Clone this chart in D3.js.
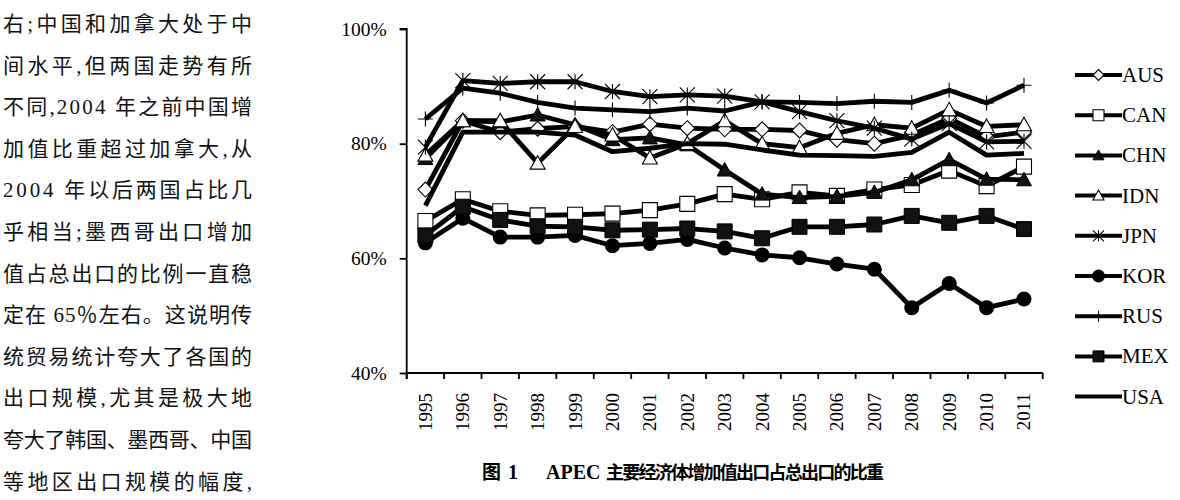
<!DOCTYPE html>
<html>
<head>
<meta charset="utf-8">
<script src="https://cdn.jsdelivr.net/npm/d3@7"></script>
<style>
    body { margin: 0; background: #fff; }
    svg { display: block; }
</style>
</head>
<body>
<div id="chart"></div>
<script>
// data (percent of gross exports)
const years = ["1995", "1996", "1997", "1998", "1999", "2000", "2001", "2002", "2003",
    "2004", "2005", "2006", "2007", "2008", "2009", "2010", "2011"];
const AUS = [72, 84, 82, 82.6, 83, 82, 83.4, 82.7, 82.5, 82.5, 82.3, 80.7, 80, 81.5, 84.4, 81.2, 82];
const CAN = [66.5, 70.3, 68.2, 67.5, 67.6, 67.8, 68.4, 69.5, 71.2, 70.3, 71.5, 70.9, 72, 72.8, 75.3, 72.6, 76];
const CHN = [77.4, 84, 83.8, 85, 83.3, 80.7, 81, 79.8, 75.4, 71.2, 70.6, 70.8, 71.5, 73.7, 77.2, 73.8, 73.7];
const IDN = [78, 84, 84, 76.6, 83, 81.5, 77.5, 80, 84, 80, 79.3, 81.8, 83.3, 82.7, 85.9, 83, 83.3];
const JPN = [79.4, 91, 90.5, 90.8, 90.8, 89.1, 88.2, 88.5, 88.3, 87.3, 85.6, 84, 82.7, 80.8, 83.5, 80.3, 80.4];
const KOR = [62.7, 67, 63.7, 63.7, 64, 62.2, 62.6, 63.3, 61.8, 60.6, 60.1, 59, 58.1, 51.4, 55.6, 51.4, 52.9];
const RUS = [84.3, 89.7, 88.8, 87.2, 86.2, 85.9, 85.6, 86.2, 85.7, 87.3, 87.2, 87, 87.4, 87.2, 89.3, 87.1, 90.2];
const MEX = [64, 69, 66.7, 65.6, 65.5, 64.9, 65, 65.2, 64.7, 63.5, 65.5, 65.5, 65.9, 67.4, 66.2, 67.4, 65.1];
const USA = [69.2, 82, 82, 82, 81.5, 78.6, 79.2, 80, 79.9, 78.9, 78, 77.9, 77.8, 78.5, 82, 78, 78.3];

const seriesNames = ["AUS", "CAN", "CHN", "IDN", "JPN", "KOR", "RUS", "MEX", "USA"];
const seriesValues = [AUS, CAN, CHN, IDN, JPN, KOR, RUS, MEX, USA];
const markerTypes = ["diamond", "square", "triangleFill", "triangle", "asterisk", "circle", "plus", "squareFill", "none"];
const yTicks = [40, 60, 80, 100];

const bodyLines = [
    "右;中国和加拿大处于中",
    "间水平,但两国走势有所",
    "不同,2004 年之前中国增",
    "加值比重超过加拿大,从",
    "2004 年以后两国占比几",
    "乎相当;墨西哥出口增加",
    "值占总出口的比例一直稳",
    "定在 65％左右。这说明传",
    "统贸易统计夸大了各国的",
    "出口规模,尤其是极大地",
    "夸大了韩国、墨西哥、中国",
    "等地区出口规模的幅度,"
];

let svg = d3.select("#chart").append("svg")
    .attr("width", 1180)
    .attr("height", 500);

let serif = "'Liberation Serif', 'DejaVu Serif', serif",
    cjk = "'Noto Sans CJK SC', sans-serif";

// left column of body text
svg.append("g")
    .selectAll("text")
    .data(bodyLines)
    .enter().append("text")
    .attr("x", 3)
    .attr("y", (d, i) => 31 + i * 41.6)
    .attr("textLength", 249)
    .attr("lengthAdjust", "spacing")
    .style("font-family", "'Liberation Serif', 'Noto Sans CJK SC', serif")
    .style("font-size", "21px")
    .style("fill", "#111")
    .text(d => d);

let plotLeft = 406.7, plotRight = 1042.7, plotTop = 29, plotBottom = 373;

let x = d3.scaleBand()
    .domain(years)
    .range([plotLeft, plotRight])
    .padding(0);

let y = d3.scaleLinear()
    .domain([40, 100])
    .range([plotBottom, plotTop]);

// y axis
let yAxis = svg.append("g")
    .attr("transform", `translate(${plotLeft},0)`)
    .call(d3.axisLeft(y).tickValues(yTicks).tickSize(7).tickFormat(d => d + "%"));
yAxis.select(".domain").attr("d", `M-7,${plotTop}H0V${plotBottom + 6}`).attr("stroke-width", 1.8);
yAxis.selectAll(".tick line").attr("stroke-width", 1.8);
yAxis.selectAll(".tick text")
    .attr("x", -20)
    .style("font-family", serif)
    .style("font-size", "19.5px")
    .style("fill", "#000");

// x axis, ticks between categories
let xAxis = svg.append("g")
    .attr("transform", `translate(0,${plotBottom})`);
xAxis.append("path")
    .attr("d", `M${plotLeft},0H${plotRight}`)
    .attr("stroke", "#000")
    .attr("stroke-width", 1.8);
xAxis.selectAll(".xtick")
    .data(years.concat(["end"]))
    .enter().append("line")
    .attr("class", "xtick")
    .attr("x1", d => d === "end" ? plotRight : x(d))
    .attr("x2", d => d === "end" ? plotRight : x(d))
    .attr("y1", 0)
    .attr("y2", 6)
    .attr("stroke", "#000")
    .attr("stroke-width", 1.8);
xAxis.selectAll(".xlabel")
    .data(years)
    .enter().append("text")
    .attr("class", "xlabel")
    .attr("transform", d => `translate(${x(d) + x.bandwidth() / 2 + 6.5},20) rotate(-90)`)
    .attr("text-anchor", "end")
    .style("font-family", serif)
    .style("font-size", "19px")
    .style("fill", "#000")
    .text(d => d);

function markerPath(type, s) {
    if (type === "diamond") return `M0,${-s}L${s},0L0,${s}L${-s},0Z`;
    if (type === "square" || type === "squareFill") return `M${-s},${-s}H${s}V${s}H${-s}Z`;
    if (type === "triangle" || type === "triangleFill") return `M0,${-s}L${s},${s * 0.8}L${-s},${s * 0.8}Z`;
    if (type === "asterisk") return `M0,${-s}V${s}M${-s},${-s}L${s},${s}M${s},${-s}L${-s},${s}`;
    if (type === "plus") return `M0,${-s}V${s}M${-s},0H${s}`;
    return "";
}

function drawMarker(g, type, s) {
    if (type === "none") return;
    if (type === "circle") {
        g.append("circle").attr("r", s).attr("fill", "#000");
        return;
    }
    let filled = type === "triangleFill" || type === "squareFill",
        open = type === "diamond" || type === "square" || type === "triangle";
    g.append("path")
        .attr("d", markerPath(type, s))
        .attr("fill", filled ? "#111" : (open ? "#fff" : "none"))
        .attr("stroke", "#000")
        .attr("stroke-width", filled ? 1 : 1.1);
}

let line = d3.line()
    .x((d, i) => x(years[i]) + x.bandwidth() / 2)
    .y(d => y(d));

let plot = svg.append("g");
seriesNames.forEach((name, k) => {
    let g = plot.append("g").attr("class", "series");
    g.append("path")
        .datum(seriesValues[k])
        .attr("d", line)
        .attr("fill", "none")
        .attr("stroke", "#000")
        .attr("stroke-width", 4.8)
        .attr("stroke-linejoin", "round");
    g.selectAll(".mk")
        .data(seriesValues[k])
        .enter().append("g")
        .attr("class", "mk")
        .attr("transform", (d, i) => `translate(${x(years[i]) + x.bandwidth() / 2},${y(d)})`)
        .each(function() { drawMarker(d3.select(this), markerTypes[k], 7.5); });
});

// legend
let legend = svg.append("g")
    .selectAll("g")
    .data(seriesNames)
    .enter().append("g")
    .attr("transform", (d, i) => `translate(1075,${75 + i * 40.2})`);
legend.append("path")
    .attr("d", "M0,0H47")
    .attr("stroke", "#000")
    .attr("stroke-width", 4);
legend.each(function(d, i) {
    let m = d3.select(this).append("g").attr("transform", "translate(23.5,0)");
    drawMarker(m, markerTypes[i], markerTypes[i] === "circle" ? 6.5 : 5.5);
});
legend.append("text")
    .attr("x", 47)
    .attr("y", 7)
    .style("font-family", serif)
    .style("font-size", "21px")
    .style("fill", "#000")
    .text(d => d);

// caption
let cap = svg.append("text")
    .attr("y", 479)
    .style("font-weight", "bold")
    .style("fill", "#000");
cap.append("tspan")
    .attr("x", 482)
    .style("font-family", cjk)
    .style("font-size", "19px")
    .text("图");
cap.append("tspan")
    .attr("x", 508)
    .style("font-family", serif)
    .style("font-size", "20px")
    .text("1");
cap.append("tspan")
    .attr("x", 546)
    .style("font-family", serif)
    .style("font-size", "20px")
    .text("APEC");
cap.append("tspan")
    .attr("x", 606)
    .attr("textLength", 278)
    .style("font-family", cjk)
    .style("font-size", "18px")
    .text("主要经济体增加值出口占总出口的比重");
</script>
</body>
</html>
